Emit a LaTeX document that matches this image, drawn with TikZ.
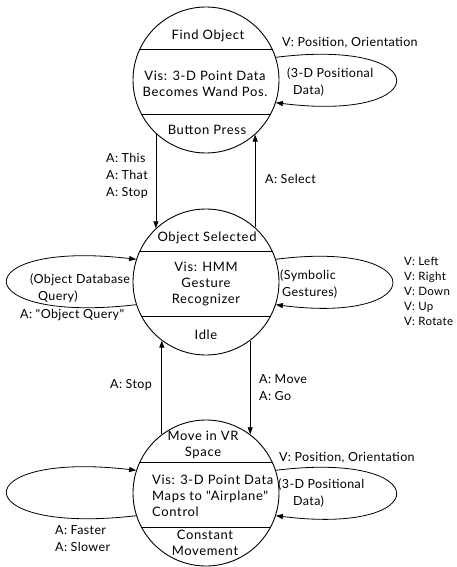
\documentclass[tikz,border=0pt]{standalone}
\usepackage{fontspec}
\setmainfont{Lato}
\newfontfamily\statefont{Lato}[LetterSpace=5]
\newfontfamily\labelfont{Lato}[LetterSpace=3]
\usetikzlibrary{arrows.meta}

\tikzset{
  state/.style={draw, circle, minimum size=146pt, inner sep=0pt, line width=0.9pt},
  ctext/.style={font=\statefont\fontsize{13}{16}\selectfont, inner sep=0pt, align=center},
  lbl/.style={font=\labelfont\fontsize{12.5}{17}\selectfont, inner sep=0pt, align=left, anchor=west},
  trans/.style={line width=0.8pt, -{Triangle[length=7pt,width=5pt]}}
}

\begin{document}
\begin{tikzpicture}[x=1pt,y=-1pt]
  \useasboundingbox (0,0) rectangle (457,567);

  % States
  \node[state] (find) at (206,80) {};
  \node[state] (sel) at (206,282) {};
  \node[state] (move) at (206,493) {};

  % Dividing lines
  \foreach \s in {find,sel,move}{
    \draw[line width=0.9pt] (\s.155) -- (\s.25);
    \draw[line width=0.9pt] (\s.-152) -- (\s.-28);
  }

  % Texts of the states
  \node[ctext] (findname) at (208,36) {Find Object};
  \node[ctext] (findvis) at (205,84) {Vis: 3-D Point Data\\Becomes Wand Pos.};
  \node[ctext] (findexit) at (207,130) {Button Press};

  \node[ctext] (selname) at (207,238) {Object Selected};
  \node[ctext] (selvis) at (206,284) {Vis: HMM\\Gesture\\Recognizer};
  \node[ctext] (selexit) at (206,335) {Idle};

  \node[ctext] (movename) at (203,445) {Move in VR\\Space};
  \node[ctext, align=left, anchor=west] (movevis) at (152,496) {Vis: 3-D Point Data\\Maps to "Airplane"\\Control};
  \node[ctext] (moveexit) at (205,543) {Constant\\Movement};

  % Self loops
  \draw[trans] (find.18) .. controls +(160,-20) and +(160,20) .. (find.-18);
  \draw[trans] (sel.18) .. controls +(155,-20) and +(155,20) .. (sel.-18);
  \draw[trans] (sel.198) .. controls +(-172,20) and +(-172,-20) .. (sel.162);
  \draw[trans] (move.198) .. controls +(-172,20) and +(-172,-20) .. (move.162);
  \draw[trans] (move.18) .. controls +(160,-20) and +(160,20) .. (move.-18);

  % Transitions
  \draw[trans] (find.227) -- (sel.133);
  \draw[trans] (sel.48) -- (find.-48);
  \draw[trans] (move.127) -- (sel.233);
  \draw[trans] (sel.-53) -- (move.53);

  % Labels
  \node[lbl] (findloopv) at (282,43) {V: Position, Orientation};
  \node[lbl] (findloopd) at (287,82) {(3-D Positional\\\hspace*{6pt}Data)};
  \node[lbl] (thislbl) at (106,175.5) {A: This\\A: That\\A: Stop};
  \node[lbl] (selectlbl) at (265,179) {A: Select};

  \node[lbl] (querylbl) at (30,288) {(Object Database\\\hspace*{8pt}Query)};
  \node[lbl] (queryact) at (20,315) {A: "Object Query"};
  \node[lbl] (symlbl) at (280,284) {(Symbolic\\\hspace*{2pt}Gestures)};
  \node[lbl, font=\labelfont\fontsize{11.5}{15}\selectfont] (vlist) at (404,291) {V: Left\\V: Right\\V: Down\\V: Up\\V: Rotate};

  \node[lbl] (stoplbl) at (110,385) {A: Stop};
  \node[lbl] (golbl) at (259,388) {A: Move\\A: Go};

  \node[lbl] (moveloopv) at (279,458) {V: Position, Orientation};
  \node[lbl] (moveloopd) at (278,493) {(3-D Positional\\\hspace*{15pt}Data)};
  \node[lbl] (speedlbl) at (55,538.5) {A: Faster\\A: Slower};
\end{tikzpicture}
\end{document}
